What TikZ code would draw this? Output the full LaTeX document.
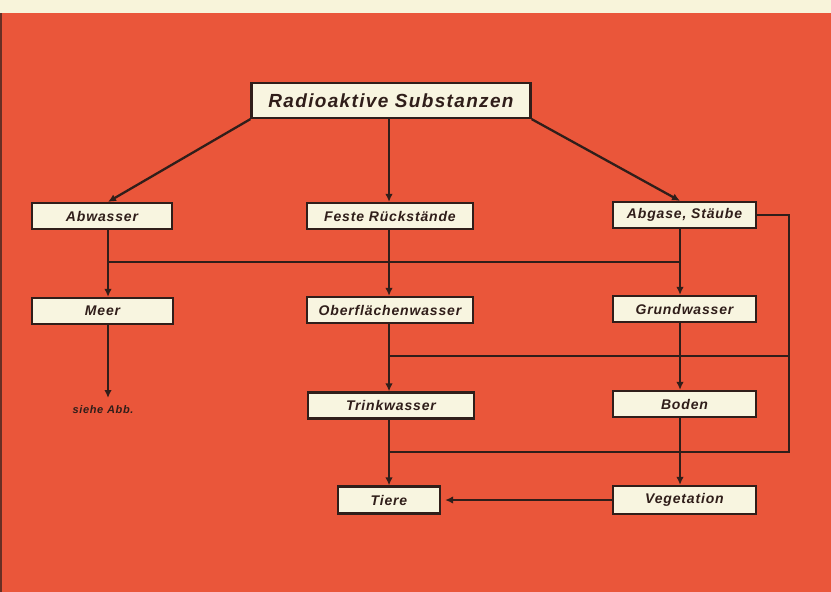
\documentclass[tikz,border=0pt]{standalone}
\usepackage{fontspec}
\setmainfont{Liberation Sans}
\newfontfamily\lblfont[LetterSpace=6]{Liberation Sans}
\newfontfamily\titlefont[LetterSpace=7]{Liberation Sans}
\usetikzlibrary{arrows.meta}
\definecolor{bgred}{RGB}{234,86,58}
\definecolor{topcream}{RGB}{248,244,218}
\definecolor{cream}{RGB}{248,245,224}
\definecolor{ink}{RGB}{48,30,26}
\begin{document}
\begin{tikzpicture}[x=1pt,y=-1pt,
  box/.style={draw=ink,line width=2.2pt,fill=cream,inner sep=0pt,minimum height=26pt,
    font=\lblfont\bfseries\itshape\fontsize{14}{16}\selectfont,text=ink},
  conn/.style={draw=ink,line width=2.3pt},
  arr/.style={conn,-{Latex[length=8pt,width=7.5pt]}}]
\useasboundingbox (0,0) rectangle (831,592);
\fill[bgred] (0,0) rectangle (831,592);
\fill[topcream] (0,0) rectangle (831,13);
\fill[ink!70!bgred] (0,13) rectangle (1.5,592);

\node[box,minimum width=279pt,minimum height=35pt,
  font=\titlefont\bfseries\itshape\fontsize{19}{21}\selectfont] (rad) at (391,100.5) {Radioaktive Substanzen};
\node[box,minimum width=140pt] (abw) at (102,216) {Abwasser};
\node[box,minimum width=166pt] (fest) at (390,216) {Feste Rückstände};
\node[box,minimum width=143pt] (abg) at (684.5,215) {Abgase, Stäube};
\node[box,minimum width=141pt] (meer) at (102.5,311) {Meer};
\node[box,minimum width=166pt] (ober) at (390,310) {Oberflächenwasser};
\node[box,minimum width=143pt] (grund) at (684.5,309) {Grundwasser};
\node[box,minimum width=166pt] (trink) at (391,405.5) {Trinkwasser};
\node[box,minimum width=143pt] (boden) at (684.5,404) {Boden};
\node[box,minimum width=102pt,minimum height=27pt] (tiere) at (389,500) {Tiere};
\node[box,minimum width=143pt,minimum height=28pt] (veg) at (684.5,500) {Vegetation};
\node[inner sep=0pt,text=ink,font=\lblfont\bfseries\itshape\fontsize{11}{12}\selectfont] (sieh) at (103,409.5) {siehe Abb.};

\coordinate (sa) at (108,398);
\coordinate (h1l) at (108,262);
\coordinate (h1r) at (680,262);
\coordinate (h2l) at (389,356);
\coordinate (h2r) at (789,356);
\coordinate (h3l) at (389,452);
\coordinate (h3r) at (789,452);

% from the top box
\draw[arr] (rad.south west) -- ([xshift=6pt]abw.north);
\draw[arr] ([xshift=-2pt]rad.south) -- ([xshift=-1pt]fest.north);
\draw[arr] (rad.south east) -- ([xshift=-4.5pt]abg.north);

% second row
\draw[arr] ([xshift=6pt]abw.south) -- ([xshift=5.5pt]meer.north);
\draw[arr] ([xshift=-1pt]fest.south) -- ([xshift=-1pt]ober.north);
\draw[arr] ([xshift=-4.5pt]abg.south) -- ([xshift=-4.5pt]grund.north);
\draw[conn] (h1l) -- (h1r);

% third row
\draw[arr] ([xshift=5.5pt]meer.south) -- (sa);
\draw[arr] ([xshift=-1pt]ober.south) -- ([xshift=-2pt]trink.north);
\draw[arr] ([xshift=-4.5pt]grund.south) -- ([xshift=-4.5pt]boden.north);
\draw[conn] (h2l) -- (h2r);

% fourth row
\draw[arr] ([xshift=-2pt]trink.south) -- (tiere.north);
\draw[arr] ([xshift=-4.5pt]boden.south) -- ([xshift=-4.5pt]veg.north);
\draw[conn] (abg.east) -| (h3r) -- (h3l);
\draw[arr] (veg.west) -- ([xshift=4pt]tiere.east);
\end{tikzpicture}
\end{document}
